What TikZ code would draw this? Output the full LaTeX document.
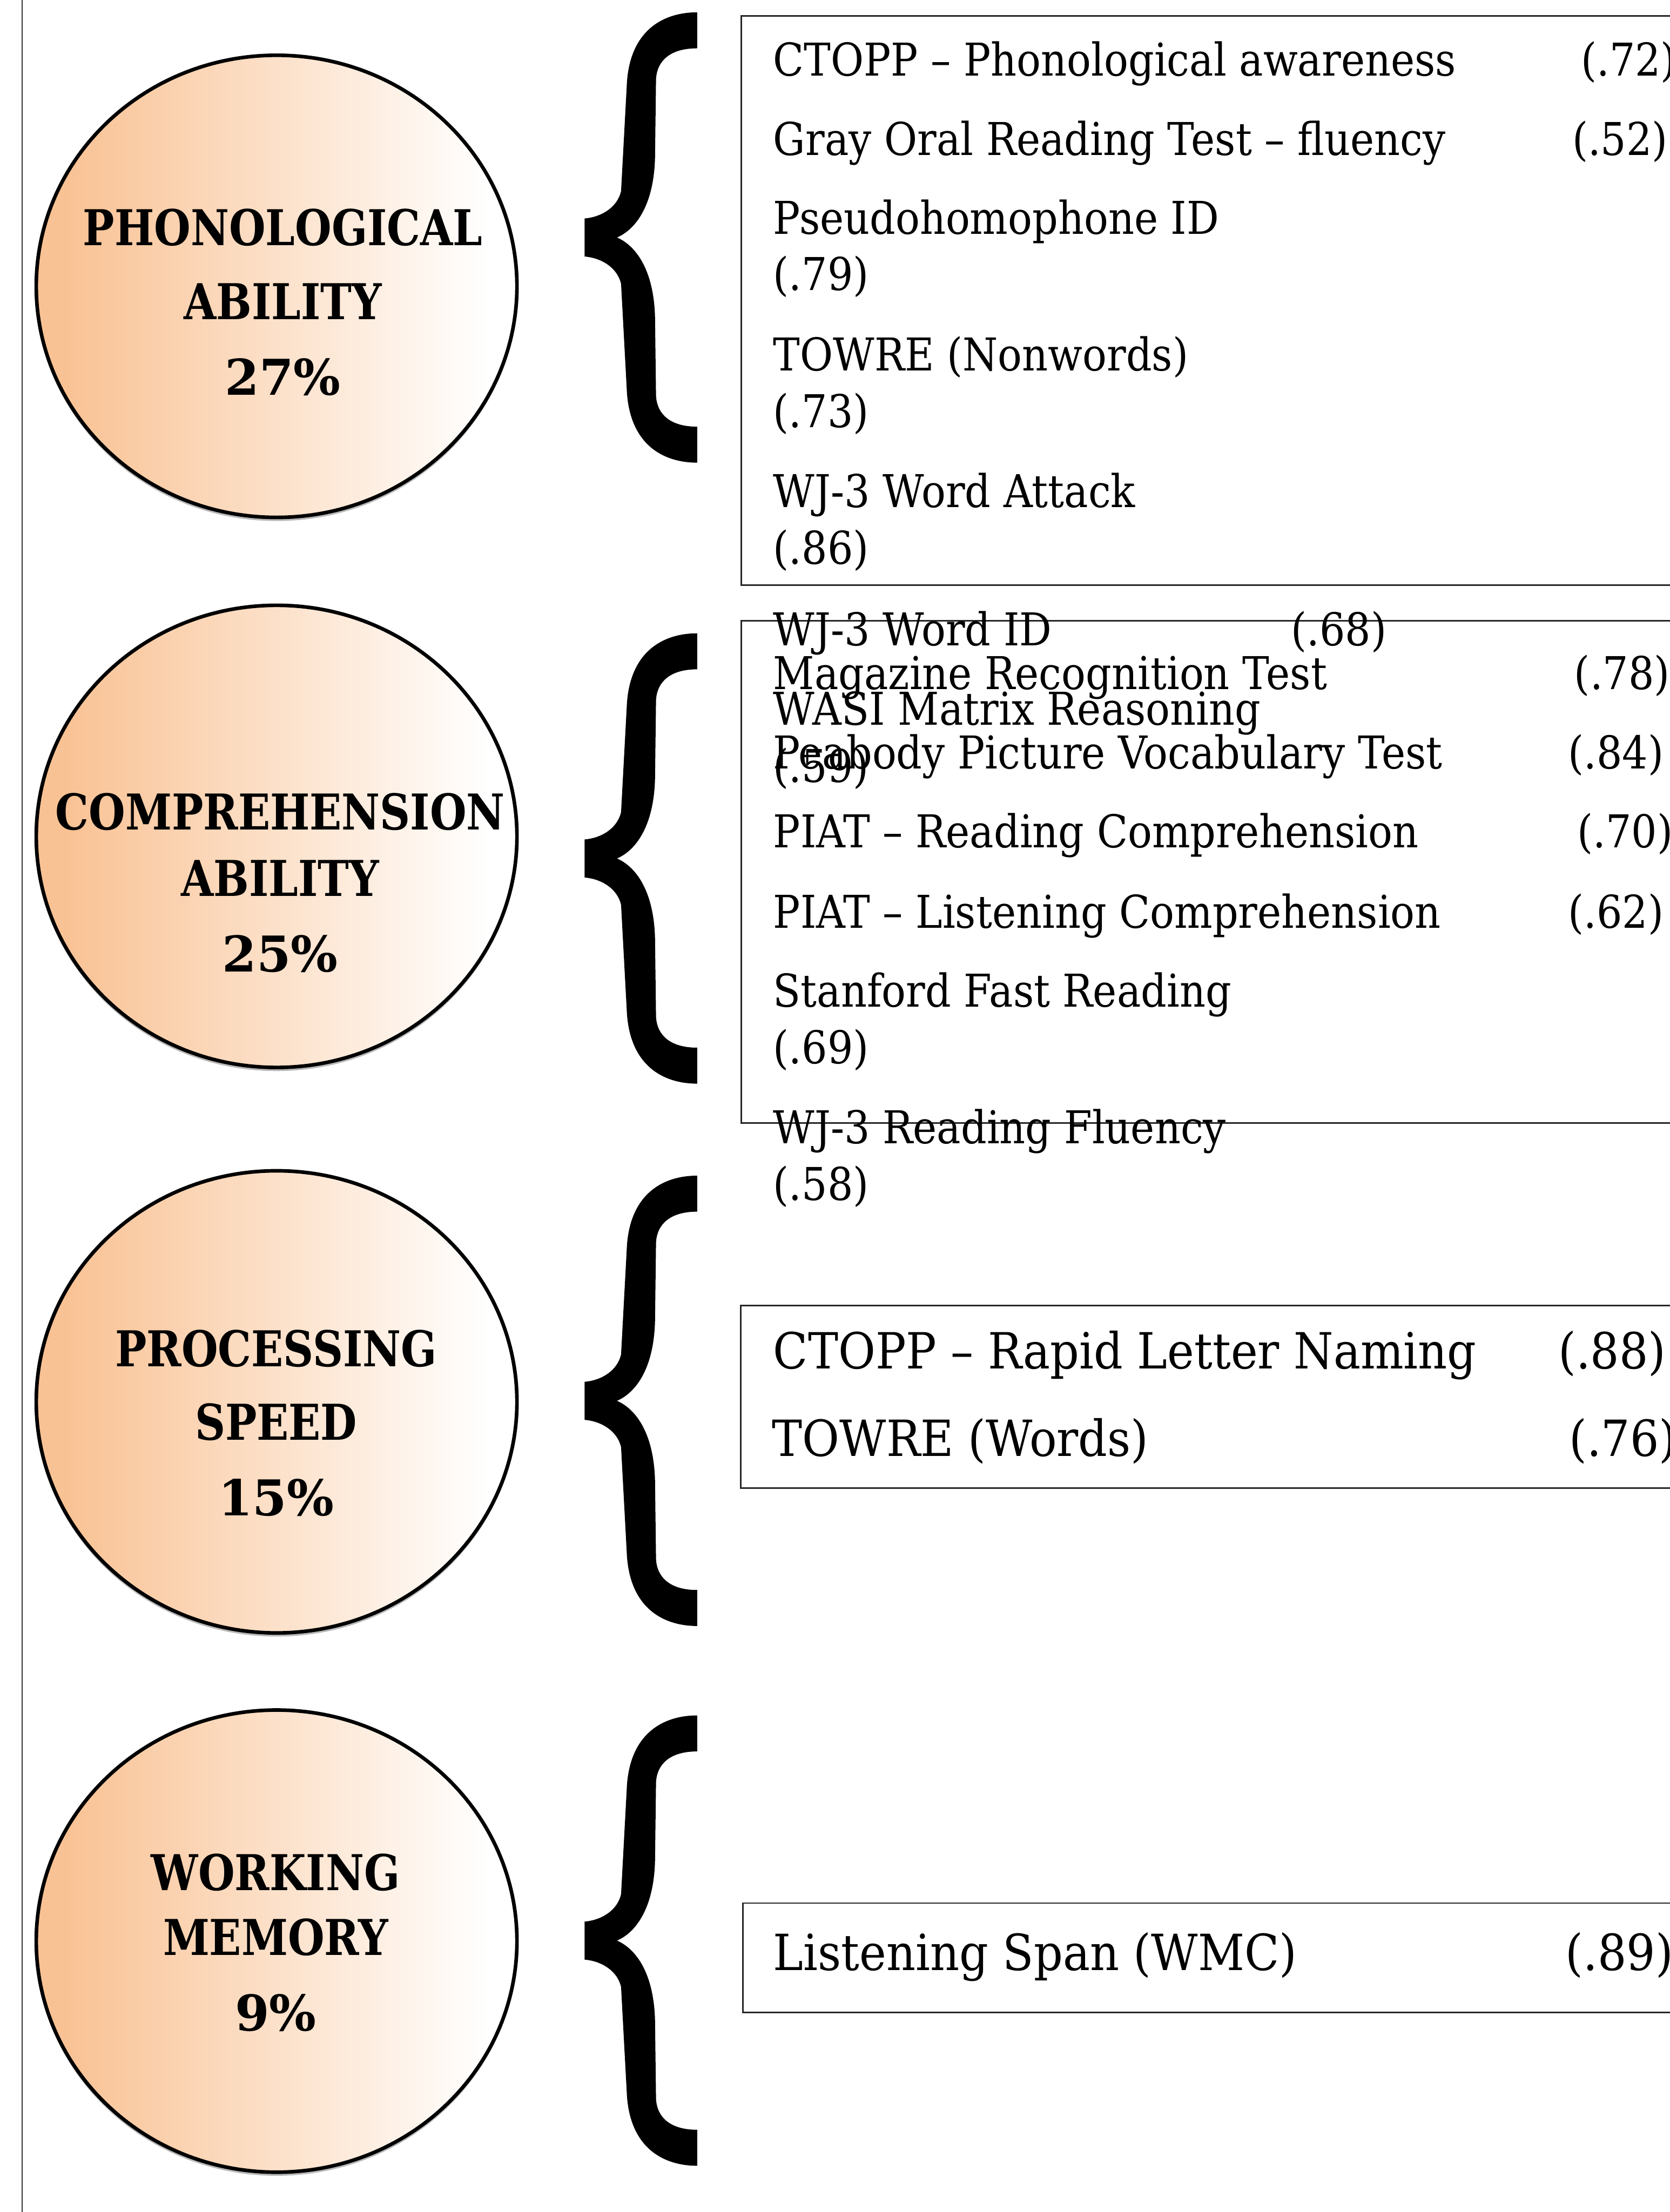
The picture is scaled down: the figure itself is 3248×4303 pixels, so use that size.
\documentclass[tikz,border=0pt]{standalone}
\usepackage{fontspec}
\usetikzlibrary{shapes.geometric}
\setmainfont{DejaVu Serif}
\newfontfamily\circfont{DejaVu Serif}[FakeStretch=0.85]
\newfontfamily\pctfont{DejaVu Serif}
\newfontfamily\boxfont{DejaVu Serif}[FakeStretch=0.89]
\newfontfamily\boxfontb{DejaVu Serif}[FakeStretch=0.91]
\definecolor{orC}{RGB}{249,194,148}
\pgfdeclarehorizontalshading{circshade}{100bp}{color(0bp)=(orC); color(28bp)=(orC); color(72bp)=(white); color(100bp)=(white)}
\tikzset{
  factor/.style={ellipse, minimum width=935pt, minimum height=899pt, draw=black, line width=7pt, shading=circshade},
  factorshadow/.style={ellipse, minimum width=937pt, minimum height=901pt, fill=black!28},
  ctext/.style={anchor=base, inner sep=0pt, font=\circfont\bfseries\fontsize{96}{110}\selectfont},
  ptext/.style={anchor=base, inner sep=0pt, font=\pctfont\bfseries\fontsize{96}{110}\selectfont},
  itm/.style={anchor=base west, inner sep=0pt, font=\boxfont\fontsize{88}{100}\selectfont},
  itmb/.style={anchor=base west, inner sep=0pt, font=\boxfontb\fontsize{97}{110}\selectfont},
  testbox/.style={draw=black!85, line width=3pt},
  pics/bigbrace/.style={code={
    \fill (0,-37) .. controls (35,-40) and (64,-60) .. (71,-90) -- (82,-294)
      .. controls (86,-400) and (150,-438) .. (219,-438) -- (219,-368)
      .. controls (168,-368) and (141,-345) .. (139,-308) -- (137,-153)
      .. controls (134,-60) and (98,-15) .. (63,0)
      .. controls (98,15) and (134,60) .. (137,153) -- (139,308)
      .. controls (141,345) and (168,368) .. (219,368) -- (219,438)
      .. controls (150,438) and (86,400) .. (82,294) -- (71,90)
      .. controls (64,60) and (35,40) .. (0,37) -- cycle;
  }}
}
\begin{document}
\begin{tikzpicture}[x=1pt,y=-1pt]
\fill[white] (0,0) rectangle (3248,4303);
\useasboundingbox (0,0) rectangle (3248,4303);
% left rule
\coordinate (lt) at (43,0);
\coordinate (lb) at (43,4303);
\draw[line width=2.5pt, black!80] (lt) -- (lb);

% factor ellipses
\node[factorshadow] (s1) at (538,563) {};
\node[factor] (c1) at (538,557) {};
\node[factorshadow] (s2) at (538,1633) {};
\node[factor] (c2) at (538,1627) {};
\node[factorshadow] (s3) at (538,2733) {};
\node[factor] (c3) at (538,2727) {};
\node[factorshadow] (s4) at (538,3782) {};
\node[factor] (c4) at (538,3776) {};

\node[ctext] (c1a) at (550,477) {PHONOLOGICAL};
\node[ctext] (c1b) at (550,621) {ABILITY};
\node[ptext] (c1c) at (550,768) {27\%};
\node[ctext] (c2a) at (545,1614) {COMPREHENSION};
\node[ctext] (c2b) at (545,1743) {ABILITY};
\node[ptext] (c2c) at (545,1890) {25\%};
\node[ctext] (c3a) at (537,2658) {PROCESSING};
\node[ctext] (c3b) at (537,2801) {SPEED};
\node[ptext] (c3c) at (537,2948) {15\%};
\node[ctext] (c4a) at (536,3677) {WORKING};
\node[ctext] (c4b) at (536,3803) {MEMORY};
\node[ptext] (c4c) at (536,3951) {9\%};

% braces
\pic (br1) at (1137,462) {bigbrace};
\pic (br2) at (1137,1670) {bigbrace};
\pic (br3) at (1137,2725) {bigbrace};
\pic (br4) at (1137,3775) {bigbrace};

% boxes
\draw[testbox] (1442,31) rectangle (3275,1138);
\draw[testbox] (1442,1208) rectangle (3275,2185);
\draw[testbox] (1441,2540) rectangle (3275,2895);
\draw[testbox] (1445,3702) rectangle (3275,3915);

% box 1 texts
\node[itm] (t1) at (1504,148) {CTOPP – Phonological awareness};
\node[itm] (v1) at (3075,148) {(.72)};
\node[itm] (t2) at (1504,302) {Gray Oral Reading Test – fluency};
\node[itm] (v2) at (3058,302) {(.52)};
\node[itm] (t3) at (1504,455) {Pseudohomophone ID};
\node[itm] (v3) at (1504,565) {(.79)};
\node[itm] (t4) at (1504,721) {TOWRE (Nonwords)};
\node[itm] (v4) at (1504,831) {(.73)};
\node[itm] (t5) at (1504,987) {WJ-3 Word Attack};
\node[itm] (v5) at (1504,1097) {(.86)};
\node[itm] (t6) at (1504,1256) {WJ-3 Word ID};
\node[itm] (v6) at (2511,1256) {(.68)};
\node[itm] (t7) at (1504,1410) {WASI Matrix Reasoning};
\node[itm] (v7) at (1504,1522) {(.59)};

% box 2 texts
\node[itm] (u1) at (1504,1341) {Magazine Recognition Test};
\node[itm] (w1) at (3062,1341) {(.78)};
\node[itm] (u2) at (1504,1495) {Peabody Picture Vocabulary Test};
\node[itm] (w2) at (3050,1495) {(.84)};
\node[itm] (u3) at (1504,1649) {PIAT – Reading Comprehension};
\node[itm] (w3) at (3068,1649) {(.70)};
\node[itm] (u4) at (1504,1805) {PIAT – Listening Comprehension};
\node[itm] (w4) at (3050,1805) {(.62)};
\node[itm] (u5) at (1504,1959) {Stanford Fast Reading};
\node[itm] (w5) at (1504,2069) {(.69)};
\node[itm] (u6) at (1504,2225) {WJ-3 Reading Fluency};
\node[itm] (w6) at (1504,2335) {(.58)};

% box 3 texts
\node[itmb] (p1) at (1504,2663) {CTOPP – Rapid Letter Naming};
\node[itmb] (q1) at (3031,2663) {(.88)};
\node[itmb] (p2) at (1502,2833) {TOWRE (Words)};
\node[itmb] (q2) at (3052,2833) {(.76)};

% box 4 texts
\node[itmb] (m1) at (1504,3833) {Listening Span (WMC)};
\node[itmb] (n1) at (3045,3833) {(.89)};
\end{tikzpicture}
\end{document}
